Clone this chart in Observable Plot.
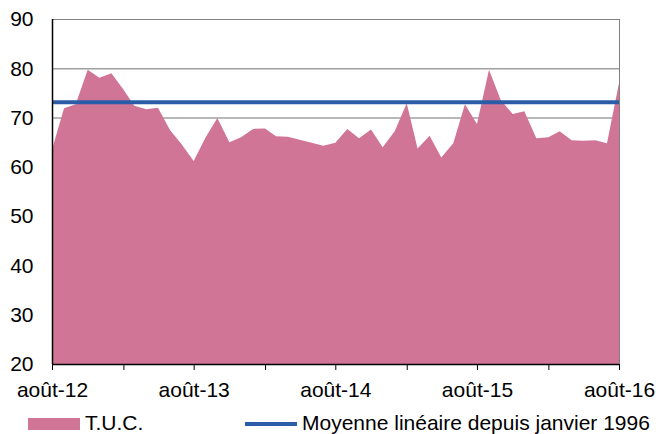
<!DOCTYPE html>
<html>
<head>
<meta charset="utf-8">
<script src="https://cdn.jsdelivr.net/npm/d3@7"></script>
<script src="https://cdn.jsdelivr.net/npm/@observablehq/plot@0.6"></script>
<style>
  body { margin: 0; background: #fff; font-family: "Liberation Sans", Arial, sans-serif; }
  #wrap { position: relative; width: 659px; height: 434px; }
  #legend { position: absolute; left: 0; top: 405px; width: 659px; height: 29px; font-size: 21px; color: #000; }
  .sw { position: absolute; }
  .lt { position: absolute; top: 7px; line-height: 21px; white-space: nowrap; }
</style>
</head>
<body>
<div id="wrap">
  <div id="chart"></div>
  <div id="legend">
    <div class="sw" style="left:28px; top:13px; width:52px; height:12px; background:#D17597;"></div>
    <div class="lt" style="left:85px;">T.U.C.</div>
    <div class="sw" style="left:245px; top:17px; width:52px; height:4px; background:#2A5CA8;"></div>
    <div class="lt" style="left:302px;">Moyenne linéaire depuis janvier 1996</div>
  </div>
</div>
<script>
// Monthly T.U.C. values, août 2012 -> août 2016
const startMonth = "2012-08-01";
const tucValues = [
  63.5, 71.9, 72.7, 79.7, 78.1, 79.0, 75.7, 72.4, 71.7, 72.0,
  67.5, 64.6, 61.2, 66.0, 69.9, 65.0, 66.0, 67.7, 67.8, 66.2,
  66.1, 65.5, 64.9, 64.3, 64.9, 67.7, 65.8, 67.6, 64.0, 67.2,
  72.9, 63.7, 66.3, 61.9, 64.8, 72.7, 68.7, 79.7, 73.6, 70.7,
  71.3, 65.8, 66.0, 67.2, 65.4, 65.3, 65.4, 64.8, 77.0
];
const meanValue = 73.2;
const yTicks = [20, 30, 40, 50, 60, 70, 80, 90];
const xTickLabels = ["août-12", "août-13", "août-14", "août-15", "août-16"];

const start = new Date(startMonth + "T00:00:00Z");
const data = tucValues.map((v, i) => ({date: d3.utcMonth.offset(start, i), value: v}));
const end = data[data.length - 1].date;
const xTicks = d3.range(0, tucValues.length, 6).map(i => data[i].date);
const labelFor = (d, i) => (i % 2 === 0 ? xTickLabels[i / 2] : "");

const chart = Plot.plot({
  width: 659,
  height: 405,
  marginLeft: 52,
  marginRight: 40,
  marginTop: 19,
  marginBottom: 41,
  style: {fontFamily: "'Liberation Sans', Arial, sans-serif", fontSize: "21px", color: "#000", background: "#fff"},
  x: {type: "utc", domain: [start, end]},
  y: {domain: [20, 90]},
  marks: [
    Plot.gridY(yTicks.slice(1, -1), {stroke: "#a0a0a0", strokeOpacity: 1, strokeWidth: 1.5}),
    Plot.areaY(data, {x: "date", y1: 20, y2: "value", fill: "#D17597", curve: "linear"}),
    Plot.ruleY([meanValue], {stroke: "#2A5CA8", strokeWidth: 4}),
    Plot.ruleY([90], {stroke: "#808080", strokeWidth: 1}),
    Plot.ruleX([end], {stroke: "#808080", strokeWidth: 1}),
    Plot.ruleX([start], {stroke: "#000", strokeWidth: 1.5}),
    Plot.ruleY([20], {stroke: "#000", strokeWidth: 1.5}),
    Plot.axisY(yTicks, {tickSize: 0, tickPadding: 19, label: null, fontSize: 21}),
    Plot.axisX(xTicks, {tickSize: 6, tickPadding: 12, tickFormat: labelFor, label: null, fontSize: 21, stroke: "#000"})
  ]
});
document.getElementById("chart").appendChild(chart);
</script>
</body>
</html>
